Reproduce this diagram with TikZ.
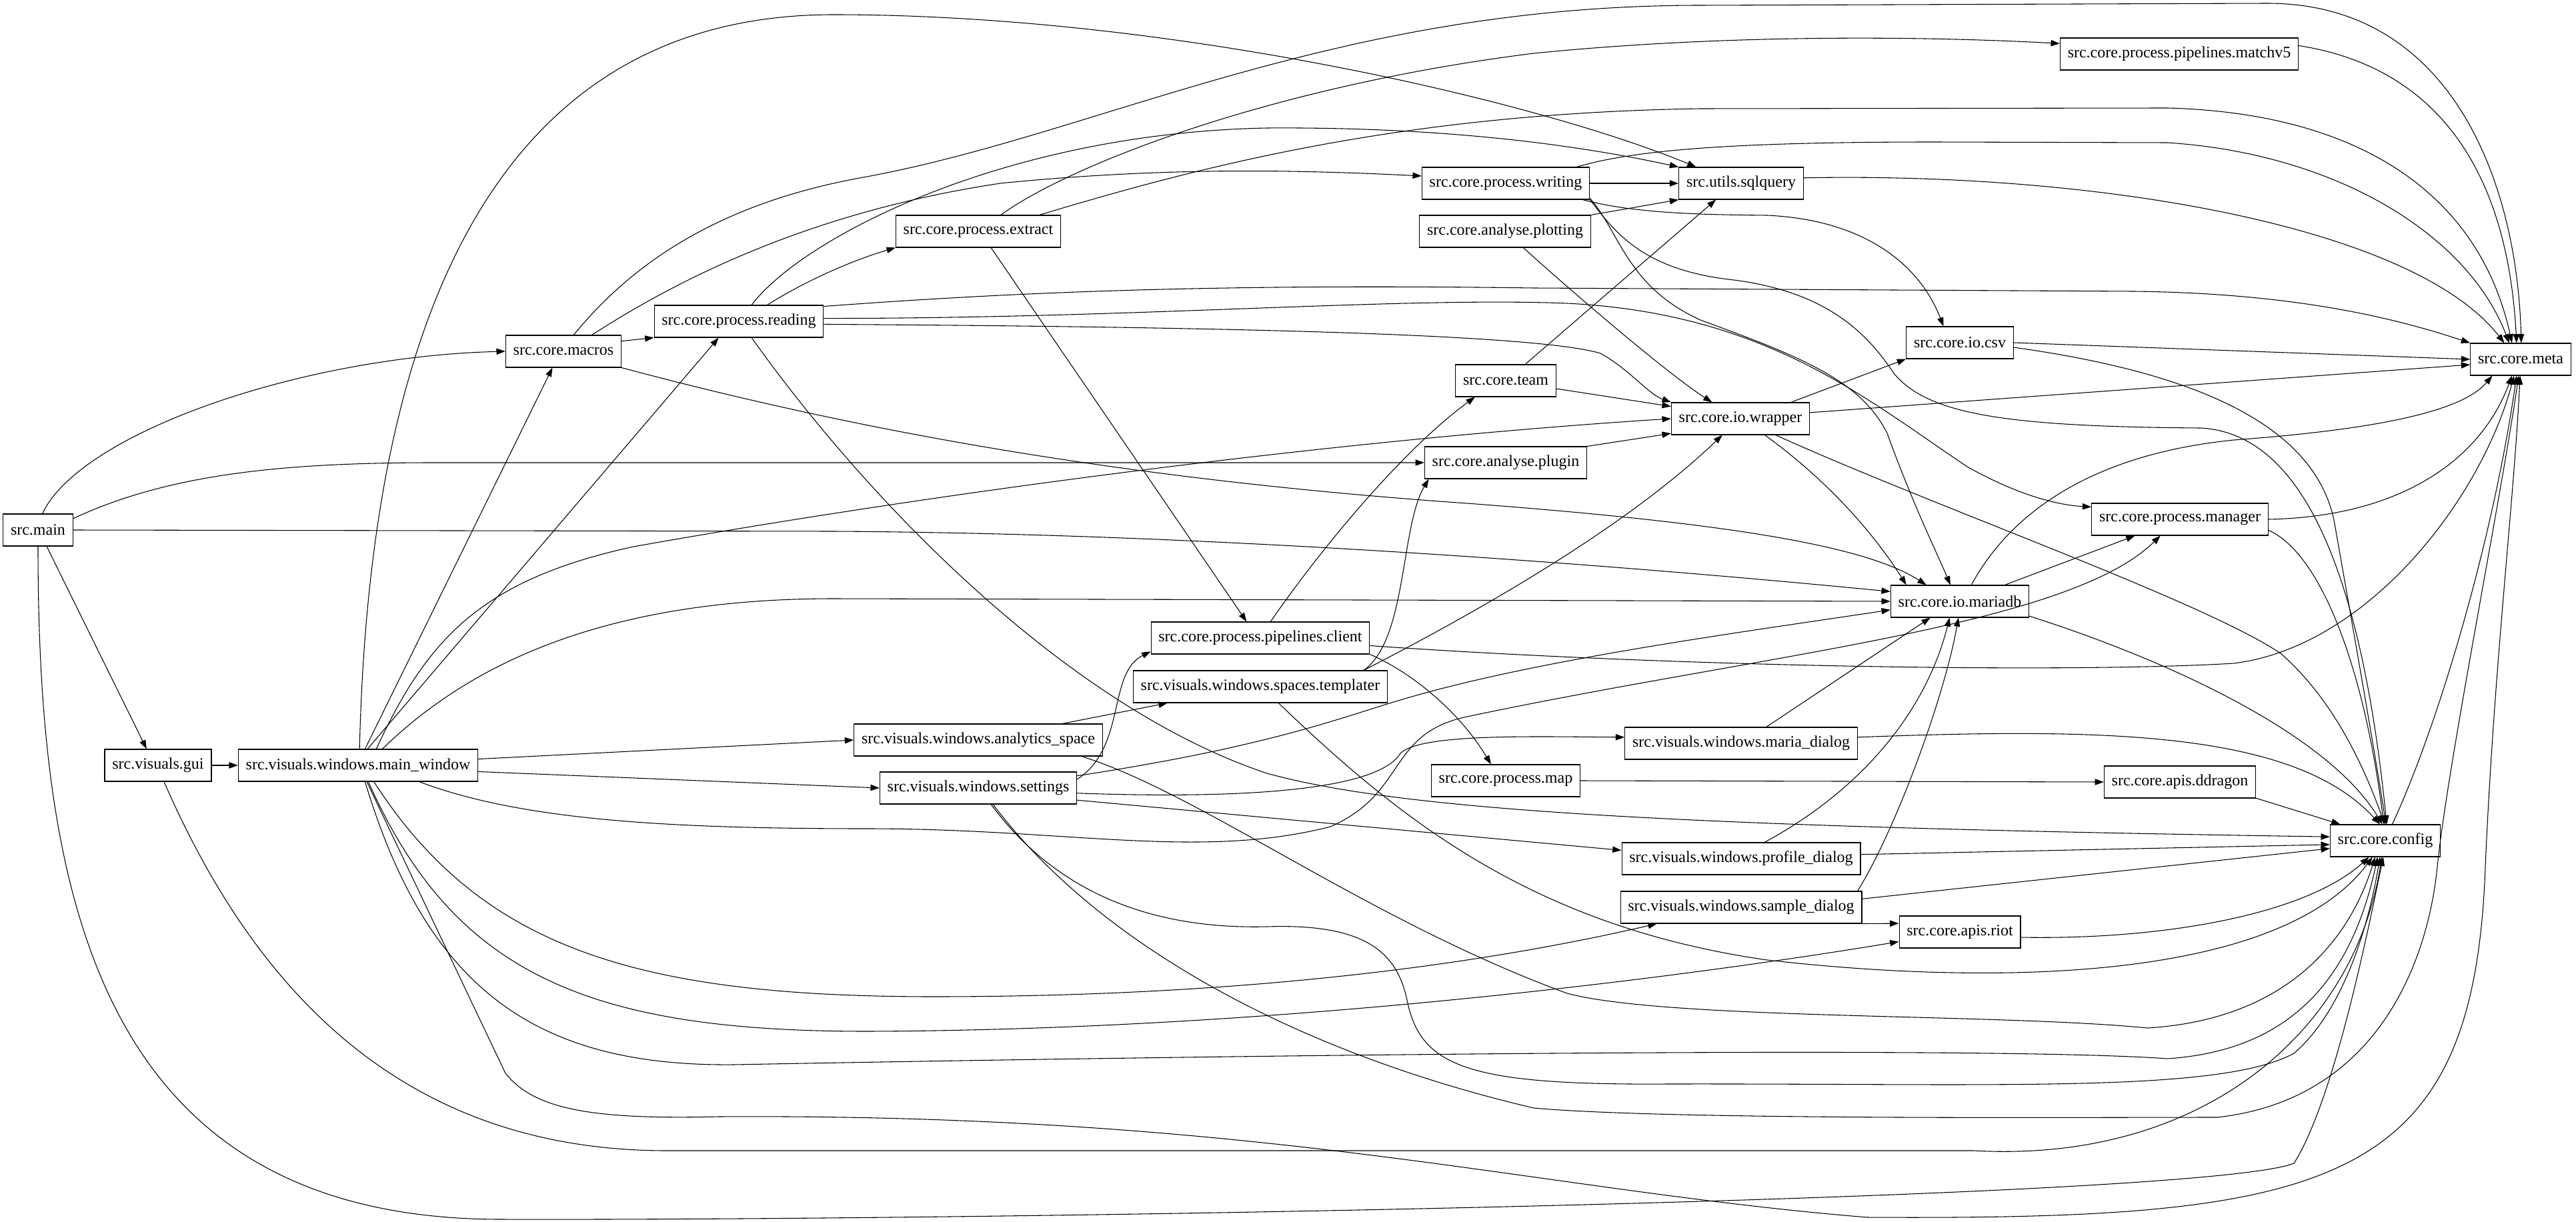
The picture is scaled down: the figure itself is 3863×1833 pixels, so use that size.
\documentclass[tikz,border=0pt]{standalone}
\usepackage{fontspec}
\setmainfont{Liberation Serif}
\usetikzlibrary{arrows.meta}

\begin{document}
\begin{tikzpicture}[x=0.75pt, y=0.75pt,
    mod/.style={draw, rectangle, line width=0.8pt, minimum height=36pt, inner xsep=8.5pt, inner ysep=0pt, font=\fontsize{18}{21}\selectfont},
    dep/.style={line width=0.8pt, -{Triangle[length=10pt,width=7pt]}}]
  \useasboundingbox (0,0) rectangle (3863,-1833);

  % Nodes
  \node[mod] (main) at (57,-795) {src.main};
  \node[mod] (gui) at (237,-1148) {src.visuals.gui};
  \node[mod] (mainwin) at (537,-1148) {src.visuals.windows.main\_window};
  \node[mod] (macros) at (845,-527) {src.core.macros};
  \node[mod] (reading) at (1108,-482) {src.core.process.reading};
  \node[mod] (extract) at (1467,-347) {src.core.process.extract};
  \node[mod] (client) at (1890,-957) {src.core.process.pipelines.client};
  \node[mod] (templater) at (1890,-1030) {src.visuals.windows.spaces.templater};
  \node[mod] (analytics) at (1467,-1110) {src.visuals.windows.analytics\_space};
  \node[mod] (settings) at (1467,-1182) {src.visuals.windows.settings};
  \node[mod] (writing) at (2258,-275) {src.core.process.writing};
  \node[mod] (plotting) at (2257,-347) {src.core.analyse.plotting};
  \node[mod] (team) at (2258,-571) {src.core.team};
  \node[mod] (plugin) at (2258,-694) {src.core.analyse.plugin};
  \node[mod] (map) at (2258,-1171) {src.core.process.map};
  \node[mod] (sqlquery) at (2611,-275) {src.utils.sqlquery};
  \node[mod] (wrapper) at (2610,-628) {src.core.io.wrapper};
  \node[mod] (mariadlg) at (2611,-1115) {src.visuals.windows.maria\_dialog};
  \node[mod] (profiledlg) at (2611,-1288) {src.visuals.windows.profile\_dialog};
  \node[mod] (sampledlg) at (2611,-1361) {src.visuals.windows.sample\_dialog};
  \node[mod] (csv) at (2939,-514) {src.core.io.csv};
  \node[mod] (mariadb) at (2939,-902) {src.core.io.mariadb};
  \node[mod] (riot) at (2939,-1398) {src.core.apis.riot};
  \node[mod] (matchv) at (3268,-81) {src.core.process.pipelines.matchv5};
  \node[mod] (manager) at (3269,-779) {src.core.process.manager};
  \node[mod] (ddragon) at (3269,-1173) {src.core.apis.ddragon};
  \node[mod] (config) at (3577,-1261) {src.core.config};
  \node[mod] (meta) at (3780,-539) {src.core.meta};

  % Arrows: src.main
  \draw[dep] (main.75) .. controls (120,-650) and (450,-535) .. (macros.west);
  \draw[dep] (main.18) .. controls (250,-712) and (420,-694) .. (650,-694) -- (plugin.west);
  \draw[dep] (main.east) -- (1250,-797) .. controls (1800,-800) and (2400,-845) .. (mariadb.172);
  \draw[dep] (main.-62) -- (gui.125);
  \draw[dep] (main.south) .. controls (57,-1350) and (150,-1828) .. (750,-1829) .. controls (1500,-1831) and (3300,-1800) .. (3440,-1745) .. controls (3500,-1650) and (3550,-1400) .. (config.-97);

  % Arrows: src.visuals.gui
  \draw[dep] (gui.east) -- (mainwin.west);
  \draw[dep] (gui.-70) .. controls (380,-1480) and (600,-1726) .. (1000,-1726) -- (2960,-1726) .. controls (3300,-1745) and (3530,-1550) .. (config.-102);

  % Arrows: main_window
  \draw[dep] (mainwin.85) .. controls (555,-450) and (760,-22) .. (1250,-22) .. controls (1750,-22) and (2300,-150) .. (sqlquery.160);
  \draw[dep] (mainwin.67) -- (macros.-124);
  \draw[dep] (mainwin.60) -- (reading.-141);
  \draw[dep] (mainwin.42) .. controls (640,-960) and (720,-870) .. (950,-820) .. controls (1400,-740) and (2000,-660) .. (wrapper.west);
  \draw[dep] (mainwin.34) .. controls (700,-1000) and (900,-898) .. (1250,-898) -- (mariadb.west);
  \draw[dep] (mainwin.3) -- (analytics.west);
  \draw[dep] (mainwin.-3) -- (settings.west);
  \draw[dep] (mainwin.-15) .. controls (780,-1230) and (1000,-1243) .. (1300,-1243) .. controls (1600,-1243) and (1800,-1290) .. (1995,-1240) .. controls (2110,-1190) and (2080,-1100) .. (2200,-1075) .. controls (2650,-980) and (3100,-940) .. (manager.-140);
  \draw[dep] (mainwin.-46) .. controls (720,-1420) and (950,-1495) .. (1400,-1495) .. controls (1900,-1495) and (2250,-1440) .. (sampledlg.-169);
  \draw[dep] (mainwin.-58) .. controls (680,-1460) and (880,-1547) .. (1300,-1547) .. controls (1900,-1545) and (2500,-1470) .. (riot.-171);
  \draw[dep] (mainwin.-67) .. controls (640,-1480) and (800,-1600) .. (1100,-1597) .. controls (2000,-1580) and (3000,-1570) .. (3250,-1588) .. controls (3450,-1575) and (3530,-1450) .. (config.-115);
  \draw[dep] (mainwin.-62) -- (758,-1610) .. controls (800,-1662) and (880,-1680) .. (1078,-1675) .. controls (1900,-1670) and (2300,-1785) .. (2800,-1826) .. controls (3500,-1830) and (3710,-1780) .. (3727,-1300) .. controls (3740,-1000) and (3770,-750) .. (meta.-92);

  % Arrows: src.core.macros
  \draw[dep] (macros.10) -- (reading.south west);
  \draw[dep] (macros.58) .. controls (960,-380) and (1100,-300) .. (1300,-265) .. controls (1650,-200) and (2000,-8) .. (2550,-8) -- (3400,-5) .. controls (3680,-5) and (3775,-280) .. (meta.88);
  \draw[dep] (macros.30) .. controls (1000,-430) and (1200,-320) .. (1500,-275) .. controls (1750,-250) and (1950,-255) .. (writing.175);
  \draw[dep] (macros.south east) .. controls (1300,-650) and (1700,-720) .. (2200,-755) .. controls (2600,-785) and (2800,-820) .. (mariadb.154);

  % Arrows: src.core.process.reading
  \draw[dep] (reading.52) .. controls (1200,-360) and (1500,-200) .. (1900,-192) .. controls (2200,-190) and (2400,-225) .. (sqlquery.north west);
  \draw[dep] (reading.30) .. controls (1210,-420) and (1280,-390) .. (extract.south west);
  \draw[dep] (reading.10) .. controls (1500,-440) and (1800,-425) .. (2300,-432) -- (3200,-437) .. controls (3450,-440) and (3600,-480) .. (meta.north west);
  \draw[dep] (reading.2) .. controls (1700,-478) and (2100,-445) .. (2350,-455) .. controls (2650,-470) and (2800,-600) .. (2950,-700) .. controls (3030,-745) and (3090,-758) .. (manager.172);
  \draw[dep] (reading.-2) .. controls (1800,-490) and (2300,-500) .. (2400,-530) .. controls (2445,-555) and (2470,-590) .. (wrapper.north west);
  \draw[dep] (reading.-52) .. controls (1300,-750) and (1600,-1060) .. (1900,-1160) .. controls (2100,-1215) and (2500,-1240) .. (config.176);

  % Arrows: src.core.process.extract
  \draw[dep] (extract.36) .. controls (1600,-250) and (1900,-130) .. (2300,-80) .. controls (2600,-50) and (2900,-55) .. (matchv.175);
  \draw[dep] (extract.15) .. controls (1800,-250) and (2100,-170) .. (2550,-163) -- (3250,-162) .. controls (3550,-170) and (3720,-300) .. (meta.118);
  \draw[dep] (extract.-52) -- (client.130);

  % Arrows: src.core.process.writing
  \draw[dep] (writing.east) -- (sqlquery.west);
  \draw[dep] (writing.13) .. controls (2450,-225) and (2600,-213) .. (2900,-213) -- (3250,-214) .. controls (3500,-230) and (3700,-350) .. (meta.125);
  \draw[dep] (writing.-12) .. controls (2450,-320) and (2550,-322) .. (2650,-323) .. controls (2800,-330) and (2880,-400) .. (csv.135);
  \draw[dep] (writing.-11) .. controls (2420,-345) and (2460,-405) .. (2600,-420) .. controls (2740,-438) and (2800,-500) .. (2840,-560) .. controls (2890,-620) and (3000,-640) .. (3300,-642) .. controls (3450,-650) and (3540,-850) .. (config.85);
  \draw[dep] (writing.-10) .. controls (2430,-350) and (2440,-430) .. (2550,-480) .. controls (2700,-535) and (2790,-570) .. (2830,-650) .. controls (2870,-760) and (2905,-830) .. (mariadb.120);

  % Arrows: plotting, team, plugin
  \draw[dep] (plotting.north east) -- (sqlquery.south west);
  \draw[dep] (plotting.-42) .. controls (2360,-440) and (2500,-560) .. (wrapper.150);
  \draw[dep] (team.40) -- (sqlquery.-147);
  \draw[dep] (team.-9) -- (wrapper.170);
  \draw[dep] (plugin.north east) -- (wrapper.-168);

  % Arrows: pipelines.client, templater, analytics_space
  \draw[dep] (client.58) .. controls (1990,-810) and (2110,-670) .. (team.-152);
  \draw[dep] (client.-4) .. controls (2500,-1000) and (3100,-1010) .. (3350,-995) .. controls (3550,-970) and (3720,-750) .. (meta.-112);
  \draw[dep] (client.south east) .. controls (2120,-1010) and (2190,-1070) .. (map.132);
  \draw[dep] (templater.9) .. controls (2110,-960) and (2100,-790) .. (plugin.-168);
  \draw[dep] (templater.9) .. controls (2250,-900) and (2450,-780) .. (wrapper.-138);
  \draw[dep] (templater.-42) .. controls (2100,-1230) and (2300,-1390) .. (2650,-1440) .. controls (3000,-1480) and (3420,-1470) .. (config.-128);
  \draw[dep] (analytics.11) -- (templater.-170);
  \draw[dep] (analytics.-9) .. controls (1800,-1190) and (2050,-1380) .. (2350,-1490) .. controls (2500,-1530) and (3000,-1520) .. (3220,-1542) .. controls (3420,-1530) and (3520,-1420) .. (config.-122);

  % Arrows: src.visuals.windows.settings
  \draw[dep] (settings.5) .. controls (1690,-1120) and (1660,-1010) .. (client.-173);
  \draw[dep] (settings.7) .. controls (1900,-1120) and (2000,-1080) .. (2100,-1050) .. controls (2300,-990) and (2600,-950) .. (mariadb.-173);
  \draw[dep] (settings.-3) .. controls (1900,-1200) and (2070,-1180) .. (2100,-1130) .. controls (2130,-1100) and (2300,-1105) .. (mariadlg.177);
  \draw[dep] (settings.-7) -- (profiledlg.176);
  \draw[dep] (settings.-52) .. controls (1570,-1320) and (1700,-1395) .. (1900,-1390) .. controls (2050,-1385) and (2095,-1430) .. (2110,-1500) .. controls (2130,-1600) and (2200,-1628) .. (2500,-1626) .. controls (3000,-1625) and (3330,-1640) .. (3440,-1580) .. controls (3510,-1520) and (3550,-1400) .. (config.-108);
  \draw[dep] (settings.-48) .. controls (1650,-1420) and (1950,-1580) .. (2300,-1662) .. controls (2500,-1680) and (3100,-1676) .. (3325,-1676) .. controls (3560,-1650) and (3640,-1450) .. (3655,-1300) .. controls (3670,-1150) and (3750,-750) .. (meta.-97);

  % Arrows: sqlquery, wrapper, csv
  \draw[dep] (sqlquery.5) .. controls (3150,-258) and (3620,-340) .. (meta.135);
  \draw[dep] (wrapper.18) -- (csv.south west);
  \draw[dep] (wrapper.5) -- (meta.-174);
  \draw[dep] (wrapper.-34) .. controls (2740,-720) and (2810,-800) .. (mariadb.163);
  \draw[dep] (wrapper.-25) .. controls (2900,-760) and (3300,-900) .. (3420,-980) .. controls (3500,-1050) and (3545,-1150) .. (config.92);
  \draw[dep] (csv.east) -- (meta.west);
  \draw[dep] (csv.-5) .. controls (3300,-560) and (3470,-640) .. (3500,-780) .. controls (3530,-950) and (3565,-1150) .. (config.88);

  % Arrows: mariadb, manager, matchv5
  \draw[dep] (mariadb.20) -- (manager.-160);
  \draw[dep] (mariadb.55) .. controls (3020,-760) and (3150,-680) .. (3350,-660) .. controls (3550,-645) and (3690,-620) .. (meta.-150);
  \draw[dep] (mariadb.-12) .. controls (3250,-990) and (3490,-1100) .. (config.100);
  \draw[dep] (manager.east) .. controls (3600,-775) and (3720,-690) .. (meta.-118);
  \draw[dep] (manager.-7) .. controls (3480,-830) and (3545,-1000) .. (config.95);
  \draw[dep] (matchv.4) .. controls (3650,-100) and (3760,-250) .. (meta.104);

  % Arrows: map, apis, dialogs
  \draw[dep] (map.east) -- (ddragon.west);
  \draw[dep] (ddragon.-12) -- (config.160);
  \draw[dep] (riot.-5) .. controls (3250,-1410) and (3460,-1370) .. (config.-135);
  \draw[dep] (mariadlg.33) -- (mariadb.-151);
  \draw[dep] (mariadlg.3) .. controls (3150,-1092) and (3440,-1095) .. (config.108);
  \draw[dep] (profiledlg.35) .. controls (2800,-1180) and (2890,-1060) .. (mariadb.-122);
  \draw[dep] (profiledlg.2) -- (config.-176);
  \draw[dep] (sampledlg.8) .. controls (2840,-1250) and (2915,-1050) .. (mariadb.-95);
  \draw[dep] (sampledlg.-8) -- (riot.172);
  \draw[dep] (sampledlg.4) -- (config.-172);
  \draw[dep] (config.67) .. controls (3660,-1080) and (3740,-800) .. (meta.-104);
\end{tikzpicture}
\end{document}
